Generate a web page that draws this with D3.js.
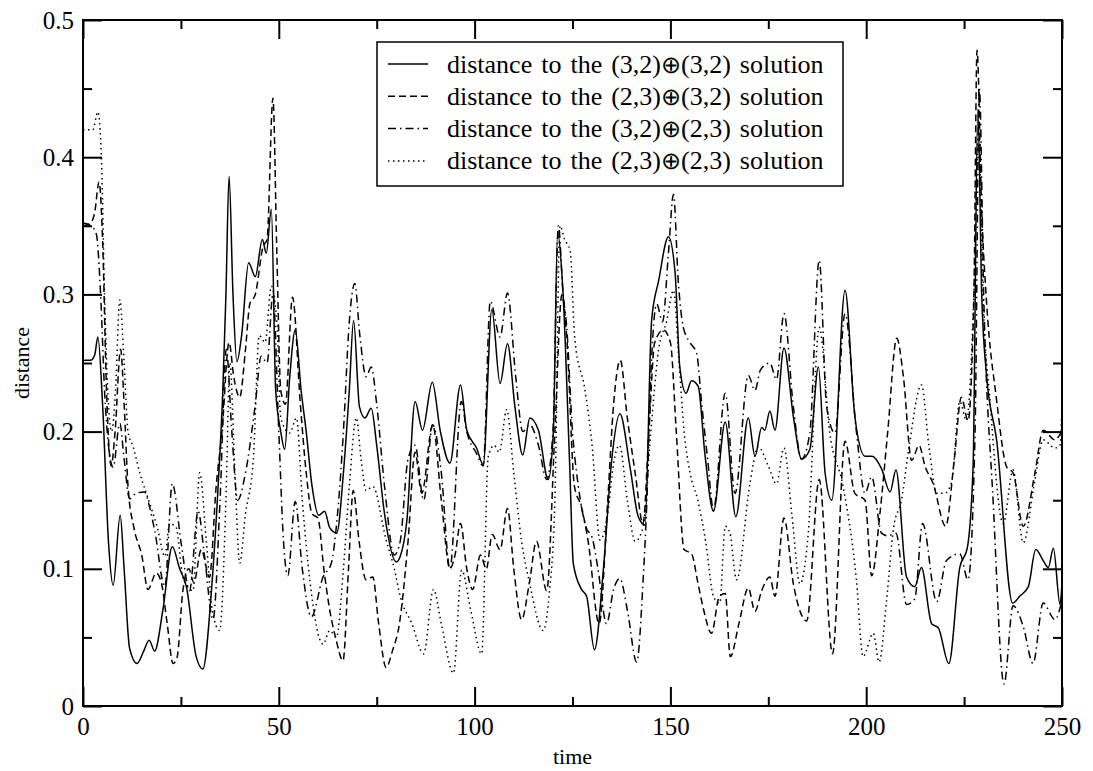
<!DOCTYPE html>
<html>
<head>
<meta charset="utf-8">
<script src="https://cdn.jsdelivr.net/npm/d3@7"></script>
<style>
  html, body { margin: 0; padding: 0; background: #fff; }
  svg { display: block; }
  text { font-family: "Liberation Serif", "Times New Roman", "DejaVu Serif", serif; fill: #000; }
</style>
</head>
<body>
<svg id="chart" width="1093" height="771"></svg>
<script>
// ---------------- data ----------------
const xMajorTicks = [0, 50, 100, 150, 200, 250];
const xMinorTicks = [25, 75, 125, 175, 225];
const yMajorTicks = [0, 0.1, 0.2, 0.3, 0.4, 0.5];
const yMajorLabels = ["0", "0.1", "0.2", "0.3", "0.4", "0.5"];
const yMinorTicks = [0.05, 0.15, 0.25, 0.35, 0.45];

const seriesNames = [
  "distance to the (3,2)\u2295(3,2) solution",
  "distance to the (2,3)\u2295(3,2) solution",
  "distance to the (3,2)\u2295(2,3) solution",
  "distance to the (2,3)\u2295(2,3) solution"
];

// [time, distance]
const dist32_32 = [[0,.252],[2,.252],[3,.256],[3.8,.269],[5,.22],[6.5,.12],[7.7,.088],[9.5,.139],[10.5,.1],[11.9,.042],[13.8,.031],[15.5,.04],[16.9,.048],[18.3,.04],[20.4,.07],[22.8,.116],[24.7,.1],[26.4,.087],[28.9,.036],[30.6,.027],[32.8,.084],[34.5,.16],[35.7,.23],[36.5,.3],[37.3,.386],[38.3,.3],[39.3,.251],[40.5,.27],[42.3,.323],[44,.313],[45.8,.34],[46.8,.33],[48.1,.362],[49.2,.23],[50.5,.2],[51.5,.187],[52.8,.24],[54.2,.274],[55.7,.23],[57,.2],[58.5,.16],[60.2,.139],[61.7,.142],[63,.13],[64.8,.126],[66.5,.17],[68,.23],[69.1,.281],[70.6,.218],[72,.21],[73.6,.217],[75,.19],[77,.14],[80,.105],[81,.109],[82.7,.135],[84.8,.222],[86.7,.201],[89.2,.236],[91.2,.201],[93.7,.177],[96.4,.234],[98,.201],[100.5,.188],[102.2,.176],[104.4,.289],[106.5,.235],[108.4,.264],[110.3,.218],[112.3,.183],[114.1,.21],[116.3,.201],[118.8,.165],[120.1,.199],[121.2,.345],[122.6,.3],[124.3,.174],[125.2,.104],[127.3,.085],[128.6,.08],[130.6,.041],[132.9,.1],[135,.179],[137.1,.213],[139.7,.174],[141.8,.138],[143.5,.132],[145.2,.281],[147,.31],[149.5,.342],[151.2,.316],[152.4,.247],[154,.228],[155.4,.237],[157.1,.233],[158.8,.184],[161,.142],[164,.207],[166.7,.138],[169.9,.21],[171.6,.182],[173.3,.203],[174.1,.201],[175.4,.215],[176.7,.201],[179,.261],[181.4,.211],[183.5,.18],[185.6,.187],[187.8,.247],[189.5,.17],[191.2,.15],[194.6,.303],[197.1,.211],[199.7,.182],[201.5,.182],[203.9,.173],[206.1,.156],[207.6,.172],[210.3,.094],[212.4,.087],[214.1,.101],[216.7,.06],[218.4,.057],[221.1,.031],[223.9,.101],[225.8,.115],[227.3,.175],[228.5,.435],[229.5,.3],[230.7,.242],[233.3,.194],[237.4,.075],[239.2,.08],[241.4,.087],[243.3,.114],[245.2,.106],[246.5,.101],[247.8,.115],[249.5,.074],[250,.09]];

const dist23_32 = [[0,.35],[2,.352],[3,.36],[4.1,.382],[5,.34],[6,.23],[7.2,.175],[8.2,.2],[9.6,.26],[10.5,.22],[11.5,.16],[13,.13],[15,.11],[16.6,.085],[18.7,.097],[20,.09],[21.5,.06],[23,.031],[24,.035],[25.5,.084],[27,.1],[28.3,.09],[30.2,.114],[32.3,.094],[34,.16],[35.5,.2],[37.3,.265],[38.5,.24],[40,.225],[41.5,.26],[42.6,.293],[44,.3],[46,.335],[47,.34],[48.5,.443],[49.5,.33],[50.5,.23],[51.7,.22],[53.5,.298],[55.5,.22],[57,.17],[58.5,.14],[60,.137],[61.5,.1],[63,.07],[64.5,.05],[66.4,.033],[67.8,.1],[69,.157],[70.5,.12],[72.3,.092],[74,.094],[75.5,.06],[77.4,.028],[79,.04],[80.8,.06],[83,.12],[84.8,.185],[86.5,.155],[89.3,.205],[91.5,.15],[93.7,.1],[95,.11],[96.4,.133],[98,.1],[99.5,.085],[101.5,.11],[103,.1],[104.5,.125],[106.5,.114],[108.4,.144],[110,.1],[112,.063],[114,.09],[115.8,.12],[118.4,.084],[120.5,.2],[122.3,.3],[123.5,.27],[125.5,.16],[127.3,.145],[129,.12],[131.8,.06],[134,.15],[135.5,.22],[137.2,.252],[139,.21],[141,.17],[143,.133],[144.5,.2],[146,.265],[148.2,.274],[150,.265],[151.5,.2],[153.5,.114],[155.4,.111],[157,.09],[158.5,.07],[160.5,.053],[162.5,.08],[164,.082],[165.3,.036],[167.5,.06],[169.9,.086],[171.6,.069],[173.3,.084],[175.4,.094],[176.7,.08],[179,.137],[181.4,.089],[184.8,.062],[188,.165],[191.4,.038],[194.6,.193],[197.1,.155],[199.7,.15],[201.4,.095],[203.5,.14],[205.5,.2],[207.8,.268],[209.5,.24],[211.6,.179],[213.5,.19],[215,.175],[217.1,.162],[220.3,.131],[222.5,.18],[224.3,.225],[226,.208],[227.5,.3],[228.3,.478],[229.5,.36],[230.7,.296],[233.3,.223],[235.9,.174],[237.5,.17],[240.1,.131],[243.1,.17],[245.2,.201],[248.2,.194],[250,.201]];

const dist32_23 = [[0,.352],[2,.35],[3.4,.344],[4.5,.3],[5.5,.23],[6.5,.19],[7.7,.174],[9.4,.206],[10.5,.18],[11.9,.151],[13.5,.155],[15.7,.156],[17,.145],[18.3,.128],[20.9,.087],[22.8,.162],[25.1,.118],[27.2,.084],[29.4,.142],[31,.11],[33.2,.063],[35,.15],[36.6,.26],[38,.2],[39.5,.15],[41.5,.17],[44,.22],[45.5,.255],[47,.25],[48.5,.3],[50,.2],[51.2,.12],[52.3,.095],[54.2,.149],[56,.1],[58.3,.065],[61.3,.094],[63.4,.104],[65,.14],[66.5,.2],[68,.28],[69.4,.308],[70.7,.27],[72.3,.24],[73.6,.247],[75,.22],[77,.16],[79.5,.11],[81,.12],[83,.18],[84.8,.19],[87,.15],[89.3,.205],[91.5,.17],[93.7,.1],[96.6,.222],[98,.2],[100.5,.184],[102.2,.175],[104,.295],[106.5,.269],[108.4,.301],[110.5,.24],[112.3,.2],[114.1,.205],[116.3,.19],[118.4,.165],[120,.2],[121.4,.35],[122.6,.3],[123.5,.277],[125,.2],[126.5,.16],[128.5,.13],[130,.123],[131.5,.1],[133.7,.06],[135.5,.085],[137.1,.093],[139,.07],[141.4,.032],[143,.09],[144,.15],[145,.24],[146.5,.293],[148,.28],[149.5,.33],[150.8,.373],[152,.31],[153.3,.276],[155,.265],[156.7,.257],[158,.22],[159.5,.18],[161,.143],[164,.228],[166.5,.155],[169.9,.241],[171.6,.23],[173,.245],[175.4,.25],[177.1,.238],[179,.286],[181.4,.218],[183.5,.18],[185.6,.199],[188,.325],[189.9,.218],[192,.199],[194.6,.286],[197.5,.2],[199.7,.155],[201.4,.167],[203.9,.126],[205.5,.124],[207.6,.126],[210.3,.074],[212.4,.078],[214.4,.133],[218,.076],[220.5,.106],[223.9,.111],[226,.092],[227.8,.199],[228.9,.45],[230,.3],[232.4,.15],[235.2,.016],[237.5,.073],[240.1,.058],[242.6,.031],[245.2,.075],[248.2,.063],[250,.077]];

const dist23_23 = [[0,.42],[2.5,.42],[3.8,.433],[4.7,.4],[5.5,.3],[6.5,.22],[7.3,.2],[8.3,.23],[9.4,.296],[10.5,.25],[11.5,.2],[12.8,.189],[14.5,.17],[17,.148],[19,.13],[20.9,.109],[22.1,.133],[23.8,.13],[25.5,.094],[28.1,.084],[29.8,.17],[31.5,.12],[33,.07],[34.9,.055],[36.5,.15],[37.5,.25],[38.8,.17],[40,.104],[41.5,.14],[43.5,.18],[45,.27],[46.5,.265],[48.1,.306],[49.5,.28],[50.5,.21],[52.8,.199],[54.5,.21],[56,.15],[58,.09],[61.3,.045],[63,.055],[64.7,.05],[66.5,.1],[68,.16],[69.8,.21],[71,.18],[72.3,.157],[74,.16],[77.4,.121],[79.5,.1],[81,.08],[84,.06],[87,.038],[89.5,.085],[91.5,.06],[94.6,.024],[96.7,.099],[99,.07],[101.8,.038],[103.5,.182],[105,.19],[106.3,.185],[108.2,.216],[110,.17],[112,.12],[114,.09],[117.5,.055],[119,.08],[120.5,.15],[121.8,.35],[123,.34],[124.4,.332],[125.6,.267],[128.2,.23],[130,.19],[132,.121],[134,.14],[135.5,.177],[137,.19],[139,.15],[141,.12],[143,.13],[145,.2],[147,.26],[149,.28],[150.8,.303],[152,.26],[153.5,.2],[155,.17],[157,.15],[159,.12],[161,.08],[162.6,.075],[164,.131],[165.2,.126],[166.9,.092],[170.3,.162],[172.4,.189],[175,.175],[177.1,.162],[179,.188],[181,.14],[183.1,.089],[185.2,.126],[188,.276],[190.7,.199],[194.1,.16],[197.5,.092],[199.2,.036],[201.8,.053],[203.3,.032],[205.2,.077],[207,.13],[209,.15],[211,.19],[214.1,.234],[216,.19],[218,.155],[220,.155],[221.8,.163],[223.9,.222],[225.6,.208],[227.5,.3],[228.7,.42],[229.8,.3],[231.6,.223],[235,.133],[237.5,.172],[240.1,.119],[243.1,.165],[245.2,.194],[248.2,.188],[249.5,.19],[250,.218]];

const seriesData = [dist32_32, dist23_32, dist32_23, dist23_23];
const dashPatterns = [null, "7,4", "8,4,1.5,4", "1.5,3.5"];

// ---------------- drawing ----------------
(function () {
const svg = d3.select("#chart");
const pL = 83, pR = 1062, pT = 20, pB = 706;

const x = d3.scaleLinear().domain([0, 250]).range([pL, pR]);
const y = d3.scaleLinear().domain([0, 0.5]).range([pB, pT]);

svg.append("defs").append("clipPath").attr("id", "plotclip")
  .append("rect").attr("x", pL).attr("y", pT).attr("width", pR - pL).attr("height", pB - pT);

const line = d3.line().x(d => x(d[0])).y(d => y(d[1])).curve(d3.curveMonotoneX);

const plot = svg.append("g").attr("clip-path", "url(#plotclip)");
seriesData.forEach((s, i) => {
  plot.append("path")
    .datum(s)
    .attr("d", line)
    .attr("fill", "none")
    .attr("stroke", "#000")
    .attr("stroke-width", 1.5)
    .attr("stroke-dasharray", dashPatterns[i]);
});

const fontSize = 25;
function styleAxis(g) {
  g.select(".domain").remove();
  g.selectAll(".tick line").attr("stroke", "#000").attr("stroke-width", 2);
  g.selectAll("text").attr("font-size", fontSize).attr("fill", "#000");
}

svg.append("g").attr("transform", `translate(0,${pB})`)
  .call(d3.axisBottom(x).tickValues(xMajorTicks).tickFormat(d => String(d)).tickSize(-19).tickPadding(11))
  .call(styleAxis);
svg.append("g").attr("transform", `translate(0,${pB})`)
  .call(d3.axisBottom(x).tickValues(xMinorTicks).tickFormat("").tickSize(-9))
  .call(styleAxis);
svg.append("g").attr("transform", `translate(0,${pT})`)
  .call(d3.axisTop(x).tickValues(xMajorTicks).tickFormat("").tickSize(-19))
  .call(styleAxis);
svg.append("g").attr("transform", `translate(0,${pT})`)
  .call(d3.axisTop(x).tickValues(xMinorTicks).tickFormat("").tickSize(-9))
  .call(styleAxis);
svg.append("g").attr("transform", `translate(${pL},0)`)
  .call(d3.axisLeft(y).tickValues(yMajorTicks).tickFormat((d, i) => yMajorLabels[i]).tickSize(-19).tickPadding(9))
  .call(styleAxis);
svg.append("g").attr("transform", `translate(${pL},0)`)
  .call(d3.axisLeft(y).tickValues(yMinorTicks).tickFormat("").tickSize(-9))
  .call(styleAxis);
svg.append("g").attr("transform", `translate(${pR},0)`)
  .call(d3.axisRight(y).tickValues(yMajorTicks).tickFormat("").tickSize(-19))
  .call(styleAxis);
svg.append("g").attr("transform", `translate(${pR},0)`)
  .call(d3.axisRight(y).tickValues(yMinorTicks).tickFormat("").tickSize(-9))
  .call(styleAxis);

svg.append("rect").attr("x", pL).attr("y", pT).attr("width", pR - pL).attr("height", pB - pT)
  .attr("fill", "none").attr("stroke", "#000").attr("stroke-width", 2);

svg.append("text").attr("x", (pL + pR) / 2).attr("y", 764).attr("text-anchor", "middle")
  .attr("font-size", 22).text("time");
svg.append("text").attr("transform", `translate(29,${(pT + pB) / 2}) rotate(-90)`).attr("text-anchor", "middle")
  .attr("font-size", 22).text("distance");

const lg = svg.append("g");
lg.append("rect").attr("x", 377).attr("y", 42).attr("width", 466).attr("height", 144)
  .attr("fill", "#fff").attr("stroke", "#000").attr("stroke-width", 1.5);
seriesNames.forEach((name, i) => {
  const cy = 64 + i * 32.3;
  lg.append("line").attr("x1", 388).attr("x2", 428).attr("y1", cy).attr("y2", cy)
    .attr("stroke", "#000").attr("stroke-width", 1.5).attr("stroke-dasharray", dashPatterns[i]);
  const parts = name.split("\u2295");
  const t = lg.append("text").attr("x", 447).attr("y", cy + 8.5).attr("font-size", 26)
    .attr("word-spacing", 2.5);
  t.append("tspan").text(parts[0]);
  t.append("tspan").attr("font-family", "DejaVu Sans ExtraLight, DejaVu Sans, sans-serif")
    .attr("font-weight", 200).attr("font-size", 24).text("\u2295");
  t.append("tspan").text(parts[1]);
});
})();
</script>
</body>
</html>
